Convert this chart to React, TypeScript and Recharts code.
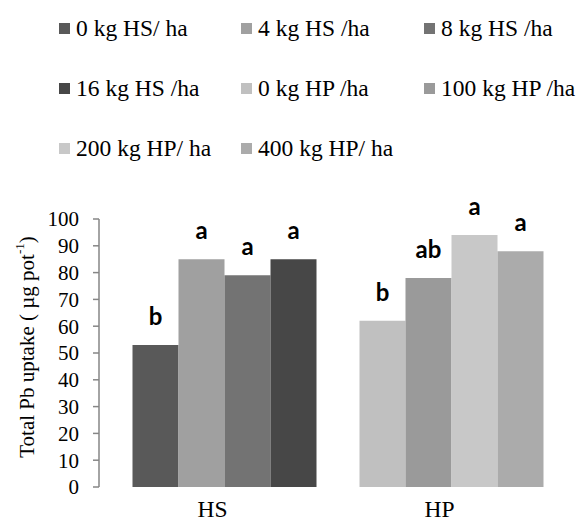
import React from "react";
import { BarChart, Bar, XAxis, YAxis, Cell, LabelList } from "recharts";

const categories = ["HS", "HP"];
const hsNames = ["0 kg HS/ ha", "4 kg HS /ha", "8 kg HS /ha", "16 kg HS /ha"];
const hpNames = ["0 kg HP /ha", "100 kg HP /ha", "200 kg HP/ ha", "400 kg HP/ ha"];
const hsValues = [53, 85, 79, 85];
const hpValues = [62, 78, 94, 88];
const hsLetters = ["b", "a", "a", "a"];
const hpLetters = ["b", "ab", "a", "a"];
const hsColors = ["#595959", "#a0a0a0", "#737373", "#474747"];
const hpColors = ["#c0c0c0", "#9a9a9a", "#c8c8c8", "#ababab"];
const yTicks = [0, 10, 20, 30, 40, 50, 60, 70, 80, 90, 100];

const SERIF = '"Liberation Serif", "Times New Roman", serif';
const SANS = 'Lato, "Open Sans", sans-serif';

const groups = [
  { values: hsValues, letters: hsLetters, colors: hsColors },
  { values: hpValues, letters: hpLetters, colors: hpColors },
];

const data = categories.map((name, j) => {
  const row: Record<string, string | number> = { name };
  groups[j].values.forEach((v, i) => {
    row[`v${i}`] = v;
    row[`l${i}`] = groups[j].letters[i];
  });
  return row;
});

const legendItems = [
  ...hsNames.map((n, i) => ({ name: n, color: hsColors[i] })),
  ...hpNames.map((n, i) => ({ name: n, color: hpColors[i] })),
];
const legendCols = [59, 241, 424];

function XTick(props: any) {
  const { x, y, payload } = props;
  return (
    <text x={x - 12} y={y + 22} textAnchor="middle" fill="#000" fontSize={23.5} fontFamily={SERIF}>
      {payload.value}
    </text>
  );
}

function YLabel(props: any) {
  const vb = props.viewBox;
  const cx = vb.x + 27;
  const cy = vb.y + vb.height / 2 - 6;
  return (
    <text
      x={cx}
      y={cy}
      transform={`rotate(-90, ${cx}, ${cy})`}
      textAnchor="middle"
      dominantBaseline="central"
      fill="#000"
      fontSize={21}
      fontFamily={SERIF}
    >
      <tspan>Total Pb uptake ( µg pot</tspan>
      <tspan fontSize={13} dy={-8}>-1</tspan>
      <tspan dy={8}>)</tspan>
    </text>
  );
}

export default function App() {
  return (
    <div style={{ position: "absolute", left: 0, top: 0, width: 579, height: 522, background: "#fff" }}>
      <div style={{ position: "absolute", left: 0, top: 0, width: 579, fontFamily: SERIF, fontSize: 23.5 }}>
        {legendItems.map((it, k) => (
          <div
            key={it.name}
            style={{
              position: "absolute",
              left: legendCols[k % 3],
              top: 28 + 60 * Math.floor(k / 3) - 15,
              height: 30,
              display: "flex",
              alignItems: "center",
              whiteSpace: "nowrap",
            }}
          >
            <span style={{ width: 11, height: 11, background: it.color, marginRight: 6 }} />
            <span>{it.name}</span>
          </div>
        ))}
      </div>
      <BarChart
        width={579}
        height={522}
        data={data}
        margin={{ top: 219, right: 14, bottom: 0, left: 0 }}
        barGap={0}
        barCategoryGap={21.5}
      >
        <XAxis
          dataKey="name"
          axisLine={false}
          tickLine={false}
          height={35}
          padding={{ left: 12, right: 0 }}
          interval={0}
          tick={<XTick />}
        />
        <YAxis
          domain={[0, 100]}
          ticks={yTicks}
          interval={0}
          width={99}
          axisLine={{ stroke: "#868686", strokeWidth: 1.5 }}
          tickLine={{ stroke: "#868686", strokeWidth: 1.5 }}
          tickSize={6}
          tickMargin={14}
          tick={{ fill: "#000", fontSize: 21, fontFamily: SERIF }}
          label={<YLabel />}
        />
        {[0, 1, 2, 3].map((i) => (
          <Bar key={i} dataKey={`v${i}`} isAnimationActive={false}>
            {groups.map((g, j) => (
              <Cell key={j} fill={g.colors[i]} />
            ))}
            <LabelList
              dataKey={`l${i}`}
              position="top"
              offset={20}
              fill="#000"
              fontSize={24}
              fontWeight="bold"
              fontFamily={SANS}
            />
          </Bar>
        ))}
      </BarChart>
    </div>
  );
}
